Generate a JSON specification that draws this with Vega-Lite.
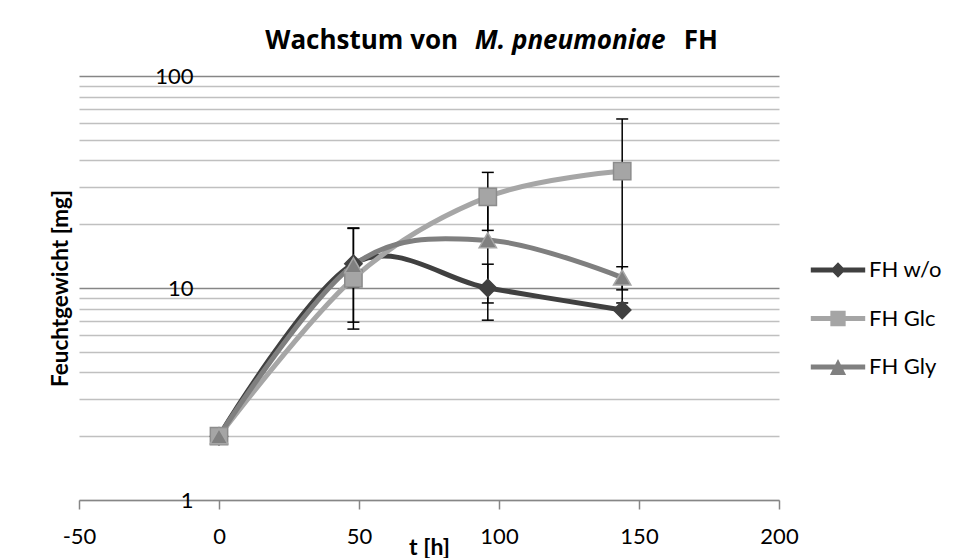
{
  "$schema": "https://vega.github.io/schema/vega-lite/v6.json",
  "width": 700,
  "height": 424,
  "autosize": {"type": "none"},
  "padding": {"left": 79, "top": 76, "right": 182, "bottom": 58},
  "background": "white",
  "config": {"font": "Lato", "view": {"stroke": null}},
  "datasets": {
    "growth": [
      {"series": "FH w/o", "t": 0, "weight": 2},
      {"series": "FH w/o", "t": 48, "weight": 13},
      {"series": "FH w/o", "t": 96, "weight": 10},
      {"series": "FH w/o", "t": 144, "weight": 7.87},
      {"series": "FH Glc", "t": 0, "weight": 2},
      {"series": "FH Glc", "t": 48, "weight": 11.1},
      {"series": "FH Glc", "t": 96, "weight": 26.9},
      {"series": "FH Glc", "t": 144, "weight": 35.6},
      {"series": "FH Gly", "t": 0, "weight": 2},
      {"series": "FH Gly", "t": 48, "weight": 12.8},
      {"series": "FH Gly", "t": 96, "weight": 16.8},
      {"series": "FH Gly", "t": 144, "weight": 11.2}
    ],
    "errors": [
      {"series": "FH w/o", "t": 48, "lo": 6.9, "hi": 19.1},
      {"series": "FH w/o", "t": 96, "lo": 7.05, "hi": 12.95},
      {"series": "FH w/o", "t": 144, "lo": 7.75, "hi": 8.0},
      {"series": "FH Glc", "t": 48, "lo": 10.1, "hi": 12.1},
      {"series": "FH Glc", "t": 96, "lo": 18.7, "hi": 35.1},
      {"series": "FH Glc", "t": 144, "lo": 8.5, "hi": 62.7},
      {"series": "FH Gly", "t": 48, "lo": 6.4, "hi": 19.2},
      {"series": "FH Gly", "t": 96, "lo": 8.5, "hi": 25.1},
      {"series": "FH Gly", "t": 144, "lo": 9.8, "hi": 12.6}
    ],
    "titleParts": [{"part": "Wachstum von"}],
    "titleItalic": [{"part": "M. pneumoniae"}],
    "titleEnd": [{"part": "FH"}]
  },
  "layer": [
    {
      "data": {"name": "growth"},
      "mark": {"type": "line", "interpolate": "cardinal", "tension": 0, "strokeWidth": 5},
      "encoding": {
        "x": {
          "field": "t", "type": "quantitative", "title": "t [h]",
          "scale": {"domain": [-50, 200], "nice": false, "zero": false},
          "axis": {
            "values": [-50, 0, 50, 100, 150, 200],
            "labelExpr": "datum.value < 0 ? '-' + format(-datum.value, 'd') : format(datum.value, 'd')",
            "grid": false,
            "domainColor": "#868686", "domainWidth": 1.5,
            "tickColor": "#868686", "tickSize": 9, "tickWidth": 1.5,
            "labelFontSize": 22, "labelColor": "black", "labelPadding": 17,
            "labelFlush": false, "labelOverlap": false,
            "titleFontSize": 23, "titleFontWeight": "bold", "titleColor": "black",
            "titleX": 350, "titleY": 47, "titleBaseline": "middle", "titleAlign": "center"
          }
        },
        "y": {
          "field": "weight", "type": "quantitative", "title": "Feuchtgewicht [mg]",
          "scale": {"type": "log", "domain": [1, 100], "nice": false},
          "axis": {
            "values": [1, 2, 3, 4, 5, 6, 7, 8, 9, 10, 20, 30, 40, 50, 60, 70, 80, 90, 100],
            "labelExpr": "datum.value == 1 || datum.value == 10 || datum.value == 100 ? format(datum.value, 'd') : ''",
            "offset": -140,
            "domain": false, "ticks": false, "tickSize": 0,
            "labelPadding": 26, "labelFontSize": 22, "labelColor": "black",
            "labelFlush": false, "labelOverlap": false,
            "grid": true,
            "gridColor": {"condition": {"test": "datum.value == 10 || datum.value == 100", "value": "#868686"}, "value": "#C0C0C0"},
            "gridWidth": 1.5,
            "titleFontSize": 22.5, "titleFontWeight": "bold", "titleColor": "black",
            "titleX": -159, "titleY": 212, "titleAngle": -90,
            "titleBaseline": "middle", "titleAlign": "center"
          }
        },
        "color": {
          "field": "series", "type": "nominal",
          "scale": {"domain": ["FH Glc", "FH Gly", "FH w/o"], "range": ["#A6A6A6", "#7F7F7F", "#404040"]},
          "legend": null
        },
        "order": {"field": "t", "type": "quantitative"}
      }
    },
    {
      "mark": {"type": "rule", "color": "#868686", "strokeWidth": 1.5},
      "encoding": {
        "x": {"datum": 0, "type": "quantitative", "title": "t [h]"}
      }
    },
    {
      "data": {"name": "errors"},
      "mark": {"type": "rule", "color": "black", "strokeWidth": 1.5},
      "encoding": {
        "x": {"field": "t", "type": "quantitative", "title": "t [h]"},
        "y": {"field": "lo", "type": "quantitative", "title": "Feuchtgewicht [mg]"},
        "y2": {"field": "hi"}
      }
    },
    {
      "data": {"name": "errors"},
      "mark": {"type": "tick", "orient": "horizontal", "size": 12, "thickness": 1.5, "color": "black", "opacity": 1},
      "encoding": {
        "x": {"field": "t", "type": "quantitative", "title": "t [h]"},
        "y": {"field": "lo", "type": "quantitative", "title": "Feuchtgewicht [mg]"}
      }
    },
    {
      "data": {"name": "errors"},
      "mark": {"type": "tick", "orient": "horizontal", "size": 12, "thickness": 1.5, "color": "black", "opacity": 1},
      "encoding": {
        "x": {"field": "t", "type": "quantitative", "title": "t [h]"},
        "y": {"field": "hi", "type": "quantitative", "title": "Feuchtgewicht [mg]"}
      }
    },
    {
      "data": {"name": "growth"},
      "transform": [{"filter": "datum.series === 'FH w/o'"}],
      "mark": {"type": "point", "shape": "diamond", "filled": true, "size": 300, "fill": "#404040", "stroke": "#404040", "strokeWidth": 1.5, "opacity": 1},
      "encoding": {
        "x": {"field": "t", "type": "quantitative", "title": "t [h]"},
        "y": {"field": "weight", "type": "quantitative", "title": "Feuchtgewicht [mg]"}
      }
    },
    {
      "data": {"name": "growth"},
      "transform": [{"filter": "datum.series === 'FH Glc'"}],
      "mark": {"type": "point", "shape": "square", "filled": true, "size": 300, "fill": "#A5A5A5", "stroke": "#8C8C8C", "strokeWidth": 1.5, "opacity": 1},
      "encoding": {
        "x": {"field": "t", "type": "quantitative", "title": "t [h]"},
        "y": {"field": "weight", "type": "quantitative", "title": "Feuchtgewicht [mg]"}
      }
    },
    {
      "data": {"name": "growth"},
      "transform": [{"filter": "datum.series === 'FH Gly'"}],
      "mark": {"type": "point", "shape": "triangle-up", "filled": true, "size": 300, "fill": "#808080", "stroke": "#A6A6A6", "strokeWidth": 1.5, "opacity": 1},
      "encoding": {
        "x": {"field": "t", "type": "quantitative", "title": "t [h]"},
        "y": {"field": "weight", "type": "quantitative", "title": "Feuchtgewicht [mg]"}
      }
    },
    {
      "data": {"name": "growth"},
      "mark": {"type": "point", "filled": true, "size": 300, "opacity": 0},
      "encoding": {
        "x": {"field": "t", "type": "quantitative", "title": "t [h]"},
        "y": {"field": "weight", "type": "quantitative", "title": "Feuchtgewicht [mg]"},
        "shape": {
          "field": "series", "type": "nominal",
          "scale": {
            "domain": ["FH w/o", "FH Glc", "FH Gly"],
            "range": [
              "M-3.2,-0.3H-0.6L0,-0.9L0.6,-0.3H3.2V0.3H0.6L0,0.9L-0.6,0.3H-3.2Z",
              "M-3.2,-0.3H-0.9V-0.9H0.9V-0.3H3.2V0.3H0.9V0.9H-0.9V0.3H-3.2Z",
              "M-3.2,-0.3H-0.33L0,-0.95L0.33,-0.3H3.2V0.3H0.63L0.95,0.95H-0.95L-0.63,0.3H-3.2Z"
            ]
          },
          "legend": {
            "title": null,
            "orient": "none",
            "legendX": 748,
            "legendY": 183,
            "symbolSize": 289,
            "symbolStrokeWidth": 0,
            "symbolOpacity": 1,
            "labelFontSize": 22,
            "labelColor": "black",
            "labelOffset": 20,
            "rowPadding": 26.5
          }
        },
        "fill": {
          "field": "series", "type": "nominal",
          "scale": {"domain": ["FH w/o", "FH Glc", "FH Gly"], "range": ["#404040", "#A5A5A5", "#808080"]},
          "legend": {
            "title": null,
            "orient": "none",
            "legendX": 748,
            "legendY": 183,
            "symbolSize": 289,
            "symbolStrokeWidth": 0,
            "symbolOpacity": 1,
            "labelFontSize": 22,
            "labelColor": "black",
            "labelOffset": 20,
            "rowPadding": 26.5
          }
        }
      }
    },
    {
      "data": {"name": "titleParts"},
      "mark": {"type": "text", "align": "right", "baseline": "alphabetic", "font": "Open Sans", "fontSize": 26, "fontWeight": "bold", "color": "black"},
      "encoding": {
        "x": {"datum": 85.4, "type": "quantitative", "title": "t [h]"},
        "y": {"datum": 134, "type": "quantitative", "title": "Feuchtgewicht [mg]"},
        "text": {"field": "part", "type": "nominal"}
      }
    },
    {
      "data": {"name": "titleItalic"},
      "mark": {"type": "text", "align": "center", "baseline": "alphabetic", "font": "Open Sans", "fontSize": 26, "fontWeight": "bold", "fontStyle": "italic", "color": "black"},
      "encoding": {
        "x": {"datum": 125.4, "type": "quantitative", "title": "t [h]"},
        "y": {"datum": 134, "type": "quantitative", "title": "Feuchtgewicht [mg]"},
        "text": {"field": "part", "type": "nominal"}
      }
    },
    {
      "data": {"name": "titleEnd"},
      "mark": {"type": "text", "align": "right", "baseline": "alphabetic", "font": "Open Sans", "fontSize": 26, "fontWeight": "bold", "color": "black"},
      "encoding": {
        "x": {"datum": 178.2, "type": "quantitative", "title": "t [h]"},
        "y": {"datum": 134, "type": "quantitative", "title": "Feuchtgewicht [mg]"},
        "text": {"field": "part", "type": "nominal"}
      }
    }
  ]
}
